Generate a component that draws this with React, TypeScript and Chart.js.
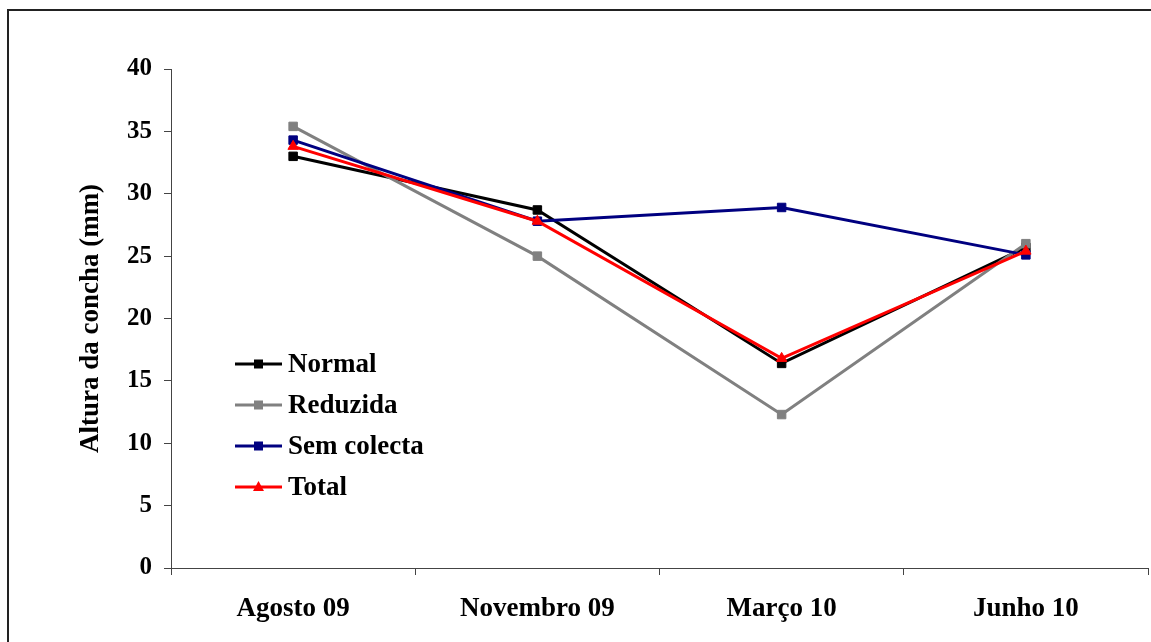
import React, { useEffect, useRef } from "react";
import { Chart, registerables } from "chart.js";

Chart.register(...registerables);

// Sampling dates
const categories = ["Agosto 09", "Novembro 09", "Março 10", "Junho 10"];

// Shell height (mm) per harvest regime
const normal = [33.0, 28.7, 16.4, 25.7];
const reduzida = [35.4, 25.0, 12.3, 26.0];
const semColecta = [34.3, 27.8, 28.9, 25.1];
const total = [33.8, 27.8, 16.8, 25.4];

const yTicks = [0, 5, 10, 15, 20, 25, 30, 35, 40];

const FONT_FAMILY = "'Liberation Serif', 'Times New Roman', serif";
const AXIS_COLOR = "#444444";

// Legend drawn inside the plot area, lower-left
const insideLegend = {
  id: "insideLegend",
  afterDraw(chart: any) {
    const { ctx, chartArea } = chart;
    const x0 = chartArea.left + 64;
    const y0 = chartArea.top + 295;
    const rowGap = 41;
    const lineLen = 47;
    ctx.save();
    ctx.font = `bold 27px ${FONT_FAMILY}`;
    ctx.textBaseline = "middle";
    ctx.textAlign = "left";
    chart.data.datasets.forEach((ds: any, i: number) => {
      const y = y0 + i * rowGap;
      ctx.strokeStyle = ds.borderColor;
      ctx.lineWidth = 3;
      ctx.beginPath();
      ctx.moveTo(x0, y);
      ctx.lineTo(x0 + lineLen, y);
      ctx.stroke();
      const cx = x0 + lineLen / 2;
      ctx.fillStyle = ds.pointBackgroundColor;
      if (ds.pointStyle === "triangle") {
        ctx.beginPath();
        ctx.moveTo(cx, y - 6);
        ctx.lineTo(cx + 5.5, y + 4);
        ctx.lineTo(cx - 5.5, y + 4);
        ctx.closePath();
        ctx.fill();
      } else {
        ctx.fillRect(cx - 4.5, y - 4.5, 9, 9);
      }
      ctx.fillStyle = "#000000";
      ctx.fillText(ds.label, x0 + lineLen + 6, y + 1);
    });
    ctx.restore();
  },
};

function series(label: string, data: number[], color: string, style: string) {
  return {
    label,
    data,
    borderColor: color,
    backgroundColor: color,
    pointBackgroundColor: color,
    pointBorderColor: color,
    pointBorderWidth: 1,
    pointStyle: style,
    pointRadius: 6,
    borderWidth: 3,
    tension: 0,
  };
}

export default function App() {
  const canvasRef = useRef<HTMLCanvasElement | null>(null);

  useEffect(() => {
    if (!canvasRef.current) return;
    const ds = [
      series("Normal", normal, "#000000", "rect"),
      series("Reduzida", reduzida, "#808080", "rect"),
      series("Sem colecta", semColecta, "#000080", "rect"),
      series("Total", total, "#ff0000", "triangle"),
    ];
    // later series are painted over earlier ones
    ds.forEach((d: any, i) => (d.order = ds.length - i));

    const chart = new Chart(canvasRef.current, {
      type: "line",
      data: { labels: categories, datasets: ds as any },
      plugins: [insideLegend],
      options: {
        animation: false,
        responsive: true,
        maintainAspectRatio: false,
        layout: { padding: { left: 0, top: 69, right: 0, bottom: 0 } },
        plugins: {
          legend: { display: false },
          tooltip: { enabled: false },
        },
        scales: {
          x: {
            type: "category",
            offset: true,
            grid: {
              offset: true,
              drawOnChartArea: false,
              drawTicks: true,
              tickLength: 7,
              color: AXIS_COLOR,
            },
            border: { display: true, color: AXIS_COLOR, width: 1 },
            ticks: {
              color: "#000000",
              padding: 18,
              maxRotation: 0,
              font: { family: FONT_FAMILY, size: 27, weight: "bold" },
            },
            afterFit: (scale: any) => {
              scale.height = 74;
              scale.paddingLeft = 0;
              scale.paddingRight = 0;
            },
          },
          y: {
            min: 0,
            max: 40,
            afterBuildTicks: (scale: any) => {
              scale.ticks = yTicks.map((v) => ({ value: v }));
            },
            grid: {
              drawOnChartArea: false,
              drawTicks: true,
              tickLength: 7,
              color: AXIS_COLOR,
            },
            border: { display: true, color: AXIS_COLOR, width: 1 },
            ticks: {
              color: "#000000",
              padding: 12,
              font: { family: FONT_FAMILY, size: 25, weight: "bold" },
            },
            title: {
              display: true,
              text: "Altura da concha (mm)",
              color: "#000000",
              padding: { top: 75, bottom: 0 },
              font: { family: FONT_FAMILY, size: 27, weight: "bold" },
            },
            afterFit: (scale: any) => {
              scale.width = 171;
            },
          },
        },
      },
    });
    return () => chart.destroy();
  }, []);

  return (
    <div
      style={{
        position: "fixed",
        left: 0,
        top: 0,
        width: 1151,
        height: 642,
        overflow: "hidden",
        background: "#ffffff",
      }}
    >
      <div
        style={{
          position: "absolute",
          left: 7,
          top: 9,
          width: 2000,
          height: 2000,
          borderTop: "2px solid #222222",
          borderLeft: "2px solid #222222",
        }}
      />
      <div style={{ position: "absolute", left: 0, top: 0, width: 1155, height: 642 }}>
        <canvas ref={canvasRef} />
      </div>
    </div>
  );
}
